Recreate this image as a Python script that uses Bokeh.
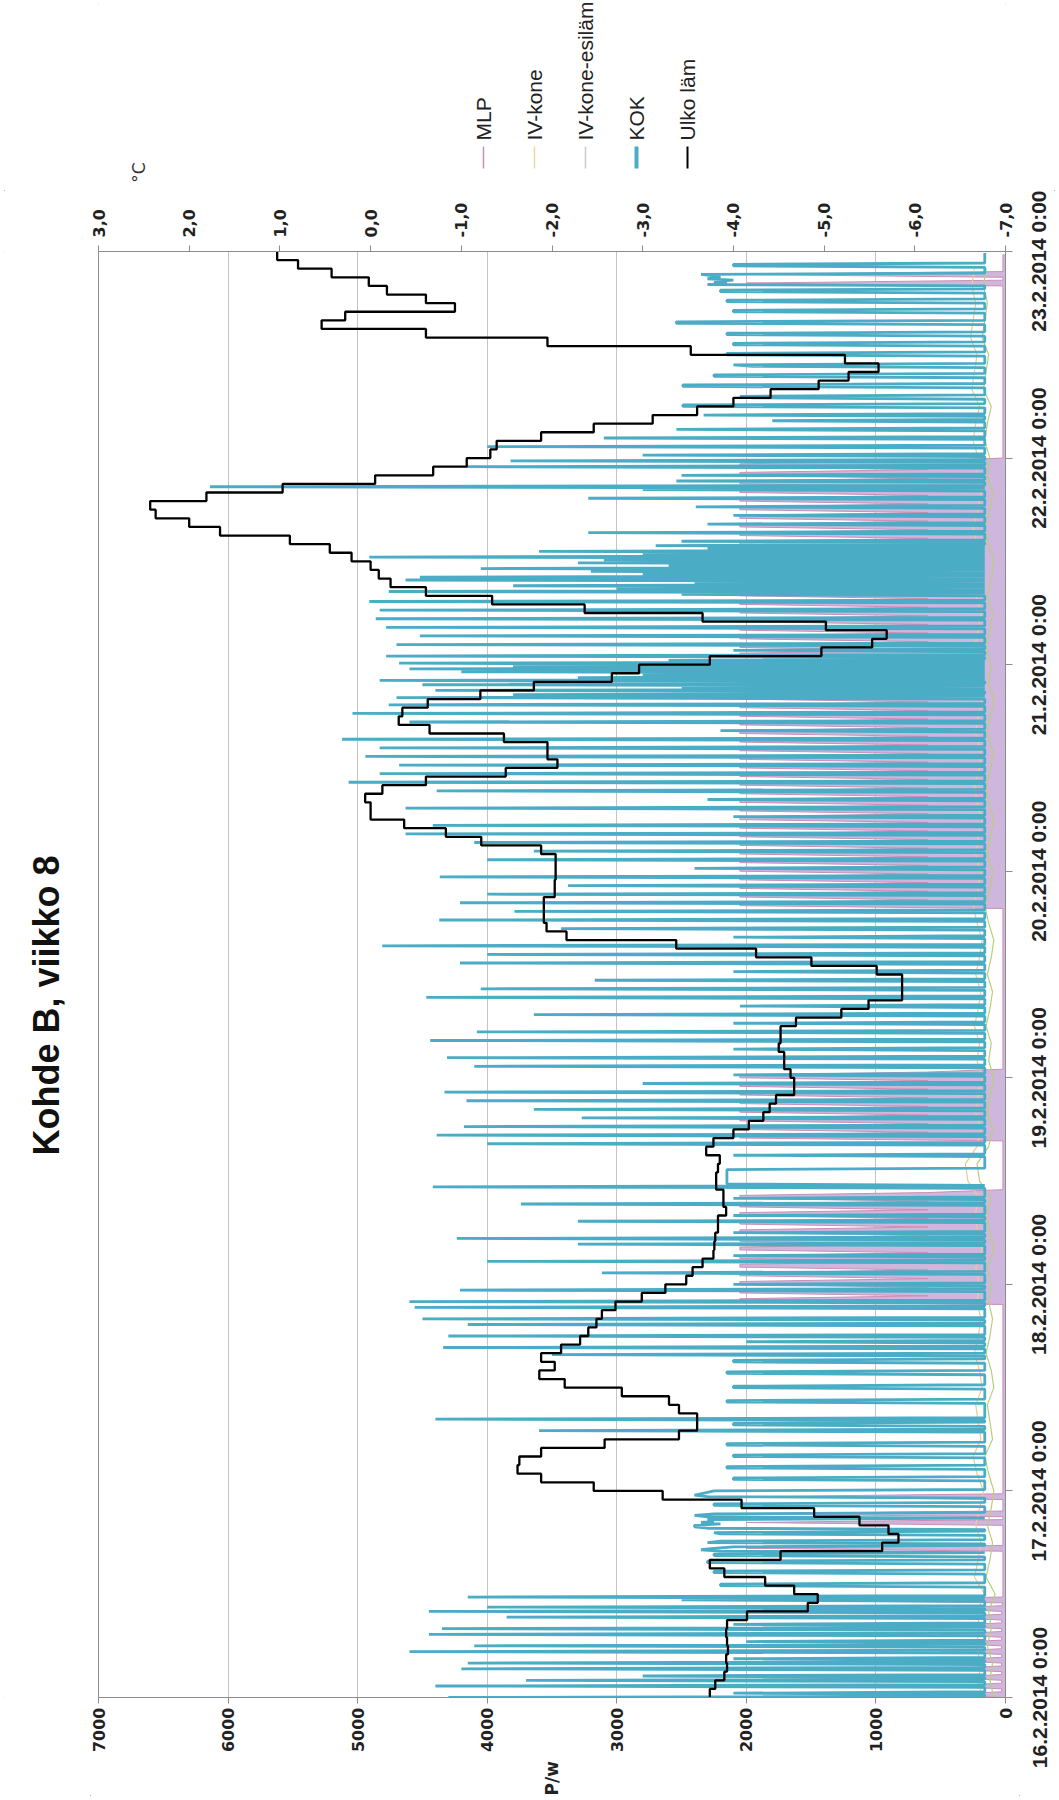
import math
from bokeh.plotting import figure
from bokeh.layouts import column, row
from bokeh.models import Range1d, LinearAxis, FixedTicker, CustomJSTickFormatter
from bokeh.core.properties import value
from bokeh.embed import file_html
from bokeh.resources import INLINE

# ---------------- data ----------------
TITLE = "Kohde B, viikko 8"
SERIES = ["MLP", "IV-kone", "IV-kone-esiläm", "KOK", "Ulko läm"]
DAY_LABELS = ["16.2.2014 0:00", "17.2.2014 0:00", "18.2.2014 0:00", "19.2.2014 0:00",
              "20.2.2014 0:00", "21.2.2014 0:00", "22.2.2014 0:00", "23.2.2014 0:00"]
POWER_TICKS = [0, 1000, 2000, 3000, 4000, 5000, 6000, 7000]
TEMP_TICKS = [-7, -6, -5, -4, -3, -2, -1, 0, 1, 2, 3]
POWER_LABEL = "P/w"
TEMP_LABEL = "°C"

# outdoor temperature (°C), hourly from 16.2.2014 0:00
ulko_lam = [
    -3.74, -3.80, -3.90, -3.93, -3.92, -3.94, -3.93, -3.92, -3.93, -4.15,
    -4.82, -4.93, -4.67, -4.35, -3.90, -3.74, -4.52, -5.64, -5.82, -5.71,
    -5.39, -4.89, -4.09, -3.22, -2.46, -1.88, -1.62, -1.64, -1.88, -2.58,
    -3.40, -3.60, -3.60, -3.40, -3.29, -2.77, -2.14, -1.86, -2.03, -1.88,
    -2.10, -2.31, -2.40, -2.49, -2.55, -2.70, -2.99, -3.25, -3.48, -3.55,
    -3.66, -3.78, -3.79, -3.80, -3.83, -3.83, -3.92, -3.89, -3.89, -3.81,
    -3.81, -3.83, -3.85, -3.70, -3.78, -4.00, -4.17, -4.33, -4.40, -4.47,
    -4.67, -4.67, -4.63, -4.56, -4.56, -4.50, -4.52, -4.52, -4.69, -5.19,
    -5.49, -5.86, -5.86, -5.86, -5.58, -4.86, -4.25, -3.37, -2.16, -1.94,
    -1.91, -1.91, -1.91, -2.03, -2.03, -2.04, -2.04, -2.04, -1.88, -1.22,
    -0.83, -0.37, 0.00, 0.00, 0.06, -0.13, -0.61, -1.49, -2.06, -1.95,
    -1.95, -1.47, -0.65, -0.31, -0.35, -0.63, -1.21, -1.80, -2.66, -2.96,
    -3.74, -4.97, -5.53, -5.69, -5.02, -3.66, -2.36, -1.34, -0.61, -0.22,
    -0.09, 0.00, 0.21, 0.45, 0.89, 1.66, 2.00, 2.37, 2.43, 1.81,
    0.97, -0.05, -0.69, -1.06, -1.32, -1.39, -1.88, -2.46, -3.11, -3.60,
    -4.00, -4.41, -4.94, -5.27, -5.60, -5.23, -3.53, -1.95, -0.61, 0.54,
    0.28, -0.93, -0.61, -0.18, 0.02, 0.43, 0.80, 1.03,
]

# KOK power (W), 10 min samples (one row = 2 hours)
kok = [
    4300, 160, 160, 2100, 160, 160, 160, 160, 4400, 160, 160, 160,
    3700, 160, 160, 2800, 160, 160, 160, 160, 4200, 160, 160, 160,
    4150, 160, 160, 2100, 160, 160, 160, 160, 4600, 160, 160, 160,
    4100, 160, 160, 2000, 160, 160, 160, 160, 4450, 160, 160, 160,
    4350, 160, 160, 2100, 160, 160, 160, 160, 3850, 160, 160, 160,
    4450, 160, 160, 4000, 160, 160, 160, 160, 2500, 160, 4150, 160,
    160, 160, 160, 160, 160, 160, 2200, 2200, 160, 160, 160, 160,
    160, 160, 160, 2250, 2250, 160, 160, 160, 160, 160, 2300, 2300,
    160, 160, 160, 2250, 2250, 160, 2200, 2350, 2250, 2100, 160, 160,
    2300, 2200, 160, 160, 160, 160, 2200, 2250, 160, 160, 2300, 2400,
    2400, 2200, 2350, 2250, 2300, 160, 2300, 2400, 2250, 160, 160, 160,
    160, 160, 2250, 2250, 160, 160, 160, 160, 2300, 2400, 2350, 2300,
    2250, 160, 160, 160, 160, 160, 160, 160, 2100, 2100, 160, 160,
    160, 160, 160, 160, 2150, 2150, 160, 160, 160, 160, 160, 160,
    2100, 2100, 160, 160, 160, 160, 160, 160, 2150, 2150, 160, 160,
    160, 160, 160, 160, 160, 160, 3600, 160, 160, 160, 2100, 2100,
    160, 160, 4400, 160, 160, 160, 160, 160, 160, 160, 160, 160,
    160, 160, 2150, 2150, 160, 160, 160, 160, 160, 160, 160, 160,
    2100, 2100, 160, 160, 160, 160, 160, 160, 160, 160, 2150, 2150,
    160, 160, 160, 160, 160, 160, 2100, 2100, 160, 160, 160, 3500,
    160, 160, 160, 160, 4340, 160, 160, 160, 2000, 160, 160, 160,
    4300, 160, 160, 160, 160, 160, 160, 160, 4150, 160, 160, 160,
    4500, 160, 160, 160, 160, 160, 160, 160, 4560, 160, 160, 160,
    4600, 160, 160, 160, 160, 160, 160, 160, 4210, 160, 160, 160,
    2100, 160, 160, 160, 160, 160, 160, 160, 3115, 160, 160, 160,
    160, 160, 160, 160, 4000, 160, 160, 160, 2100, 160, 160, 160,
    160, 160, 160, 160, 3300, 160, 160, 160, 4235, 160, 160, 160,
    2100, 160, 160, 160, 160, 160, 160, 160, 3300, 160, 160, 160,
    2100, 160, 160, 160, 160, 160, 160, 160, 3740, 160, 160, 160,
    2100, 160, 160, 160, 160, 160, 160, 160, 4420, 160, 2150, 2150,
    2150, 2150, 2150, 2150, 2150, 2150, 2150, 2150, 2150, 160, 160, 160,
    160, 160, 160, 160, 160, 160, 2100, 160, 160, 160, 160, 160,
    160, 160, 4000, 160, 160, 160, 160, 160, 4390, 160, 160, 160,
    160, 160, 4180, 160, 160, 160, 160, 160, 3270, 160, 160, 160,
    160, 160, 3640, 160, 160, 160, 160, 160, 4160, 160, 160, 160,
    160, 160, 4330, 160, 160, 160, 160, 160, 2800, 160, 160, 160,
    160, 160, 2100, 160, 160, 160, 160, 160, 4100, 160, 160, 160,
    160, 160, 4310, 160, 160, 160, 160, 160, 2100, 160, 160, 160,
    160, 160, 4440, 160, 160, 160, 160, 160, 4080, 160, 160, 160,
    160, 160, 2100, 160, 160, 160, 160, 160, 3640, 160, 160, 160,
    160, 160, 2050, 160, 160, 160, 160, 160, 4470, 160, 160, 160,
    160, 160, 4050, 160, 160, 160, 160, 160, 3170, 160, 160, 160,
    160, 160, 2100, 160, 160, 160, 160, 160, 4210, 160, 160, 160,
    160, 160, 4000, 160, 160, 160, 160, 160, 4810, 160, 160, 160,
    160, 160, 2100, 160, 160, 160, 160, 160, 3430, 160, 160, 160,
    160, 160, 4370, 160, 160, 160, 160, 160, 3790, 160, 160, 160,
    160, 160, 4210, 160, 160, 160, 160, 160, 4000, 160, 160, 160,
    160, 160, 3376, 160, 160, 160, 160, 160, 4366, 160, 160, 160,
    160, 160, 2400, 160, 160, 160, 160, 160, 4000, 160, 160, 160,
    160, 160, 3640, 160, 160, 160, 160, 160, 4100, 160, 160, 160,
    160, 160, 4630, 160, 160, 160, 160, 160, 4420, 160, 160, 160,
    160, 160, 2100, 160, 160, 160, 160, 160, 4630, 160, 160, 160,
    160, 160, 2300, 160, 160, 160, 160, 160, 4390, 160, 160, 160,
    160, 160, 5070, 160, 160, 160, 160, 160, 4830, 160, 160, 160,
    160, 160, 4680, 160, 160, 160, 160, 160, 4940, 160, 160, 160,
    160, 160, 4830, 160, 160, 160, 160, 160, 5120, 160, 160, 160,
    160, 160, 2200, 160, 160, 160, 160, 160, 4600, 160, 160, 160,
    160, 160, 5040, 160, 160, 160, 160, 160, 4760, 160, 160, 160,
    160, 4700, 160, 3800, 160, 160, 4400, 160, 2500, 160, 4500, 160,
    160, 4830, 160, 3300, 160, 2800, 160, 4200, 160, 4600, 160, 3800,
    160, 4680, 160, 2600, 160, 160, 4780, 160, 160, 160, 2100, 160,
    160, 160, 4700, 160, 160, 160, 160, 160, 4520, 160, 160, 160,
    160, 160, 4780, 160, 160, 160, 160, 160, 4860, 160, 160, 160,
    160, 160, 4830, 160, 160, 160, 160, 160, 4910, 160, 160, 160,
    160, 2500, 160, 4760, 160, 3000, 160, 3800, 160, 2400, 160, 4630,
    160, 4520, 160, 2800, 160, 3200, 160, 4050, 160, 2600, 160, 3300,
    160, 3100, 160, 4910, 160, 2800, 160, 3600, 160, 2300, 160, 2700,
    160, 160, 2500, 160, 160, 160, 160, 160, 3220, 160, 160, 160,
    160, 160, 2300, 160, 160, 160, 160, 160, 2100, 160, 160, 160,
    160, 160, 2390, 160, 160, 160, 160, 160, 3220, 160, 160, 160,
    160, 160, 2800, 160, 6140, 160, 160, 160, 2540, 160, 160, 160,
    2500, 160, 160, 160, 160, 160, 4160, 160, 160, 160, 3820, 160,
    160, 160, 2800, 160, 160, 160, 160, 160, 4000, 160, 160, 160,
    160, 160, 3100, 160, 160, 160, 160, 160, 2540, 160, 160, 160,
    160, 160, 1800, 160, 160, 160, 2330, 160, 160, 160, 160, 160,
    2490, 2490, 160, 160, 160, 160, 1950, 2050, 160, 160, 160, 160,
    160, 160, 2490, 2490, 160, 160, 160, 160, 160, 2250, 2250, 160,
    160, 160, 160, 160, 1950, 2100, 160, 160, 160, 160, 160, 160,
    2150, 2150, 160, 160, 160, 160, 160, 2100, 2100, 160, 160, 160,
    160, 160, 2150, 2150, 160, 160, 160, 160, 160, 160, 2540, 2540,
    160, 160, 160, 160, 160, 160, 2100, 2100, 160, 160, 160, 160,
    160, 2150, 2150, 160, 160, 160, 160, 160, 2200, 2200, 160, 160,
    160, 2300, 2150, 2250, 2100, 2300, 2200, 2250, 2350, 160, 160, 160,
    160, 160, 2100, 2100, 160, 160, 160, 160, 160, 160, 160, 160,
]

# MLP power (W), 20 min samples (one row = 4 hours)
mlp = [
    30, 500, 30, 30, 500, 30, 30, 500, 30, 30, 500, 30,
    30, 500, 30, 30, 500, 30, 30, 500, 30, 30, 500, 30,
    30, 500, 30, 30, 500, 30, 30, 500, 30, 20, 2000, 20,
    20, 20, 20, 20, 20, 20, 20, 20, 20, 20, 20, 20,
    20, 20, 20, 20, 2000, 20, 20, 20, 20, 20, 20, 20,
    20, 2000, 20, 20, 2000, 20, 20, 20, 20, 20, 2000, 20,
    20, 20, 20, 20, 20, 20, 20, 20, 20, 20, 20, 20,
    20, 20, 20, 20, 20, 20, 20, 20, 20, 20, 20, 20,
    20, 20, 20, 20, 20, 20, 20, 20, 20, 20, 20, 20,
    20, 20, 20, 20, 20, 20, 20, 20, 20, 20, 20, 20,
    20, 20, 20, 20, 20, 20, 20, 20, 20, 20, 20, 20,
    20, 20, 20, 20, 20, 20, 2050, 2050, 600, 2050, 2050, 600,
    2050, 2050, 600, 2050, 2050, 600, 2050, 2050, 600, 2050, 2050, 600,
    2050, 2050, 600, 2050, 2050, 600, 2050, 2050, 600, 2050, 2050, 600,
    2050, 2050, 600, 2050, 2050, 600, 2050, 2050, 600, 20, 20, 20,
    20, 20, 20, 20, 20, 20, 20, 20, 20, 20, 20, 20,
    20, 20, 20, 2050, 2050, 600, 2050, 2050, 600, 2050, 2050, 600,
    2050, 2050, 600, 2050, 2050, 600, 2050, 2050, 600, 2050, 2050, 600,
    2050, 2050, 600, 20, 20, 20, 20, 20, 20, 20, 20, 20,
    20, 20, 20, 20, 20, 20, 20, 20, 20, 20, 20, 20,
    20, 20, 20, 20, 20, 20, 20, 20, 20, 20, 20, 20,
    20, 20, 20, 20, 20, 20, 20, 20, 20, 20, 20, 20,
    20, 20, 20, 20, 20, 20, 20, 20, 20, 20, 20, 20,
    2050, 2050, 600, 2050, 2050, 600, 2050, 2050, 600, 2050, 2050, 600,
    2050, 2050, 600, 2050, 2050, 600, 2050, 2050, 600, 2050, 2050, 600,
    2050, 2050, 600, 2050, 2050, 600, 2050, 2050, 600, 2050, 2050, 600,
    2050, 2050, 600, 2050, 2050, 600, 2050, 2050, 600, 2050, 2050, 600,
    2050, 2050, 600, 2050, 2050, 600, 2050, 2050, 600, 2050, 2050, 600,
    2050, 2050, 600, 2050, 2050, 600, 2050, 2050, 600, 2050, 2050, 600,
    2050, 2050, 600, 2050, 2050, 600, 2050, 2050, 600, 2050, 2050, 600,
    2050, 2050, 600, 2050, 2050, 600, 2050, 2050, 600, 2050, 2050, 600,
    2050, 2050, 600, 2050, 2050, 600, 2050, 2050, 600, 2050, 2050, 600,
    2050, 2050, 600, 2050, 2050, 600, 2050, 2050, 600, 2050, 2050, 600,
    2050, 2050, 600, 2050, 2050, 600, 2050, 2050, 600, 2050, 2050, 600,
    2050, 2050, 600, 2050, 2050, 600, 2050, 2050, 600, 2050, 2050, 600,
    2050, 2050, 600, 2050, 2050, 600, 2050, 2050, 600, 2050, 2050, 600,
    20, 20, 20, 20, 20, 20, 20, 20, 20, 20, 20, 20,
    20, 20, 20, 20, 20, 20, 20, 20, 20, 20, 20, 20,
    20, 20, 20, 20, 20, 20, 20, 20, 20, 20, 20, 20,
    20, 20, 20, 20, 20, 20, 20, 20, 20, 20, 20, 20,
    20, 20, 20, 20, 20, 20, 20, 20, 20, 20, 20, 20,
    20, 2000, 20, 20, 2000, 20, 20, 20, 20, 20, 20, 20,
]

# ventilation units (W), 2 hour samples
iv_kone = [
    180, 210, 190, 230, 200, 220, 160, 240, 210, 190, 230, 200,
    170, 220, 250, 190, 210, 230, 180, 200, 240, 210, 190, 220,
    200, 230, 180, 210, 240, 200, 290, 310, 220, 190, 230, 210,
    180, 220, 200, 240, 210, 190, 230, 200, 180, 220, 250, 210,
    190, 230, 210, 180, 220, 240, 200, 190, 230, 210, 180, 220,
    200, 240, 210, 190, 230, 200, 180, 220, 250, 210, 190, 230,
    210, 250, 230, 200, 260, 240, 220, 270, 250, 230, 260, 240,
]
iv_kone_esilam = [
    90, 120, 100, 140, 110, 130, 80, 150, 120, 100, 140, 110,
    90, 130, 160, 100, 120, 140, 90, 110, 150, 120, 100, 130,
    110, 140, 90, 120, 150, 110, 200, 220, 130, 100, 140, 120,
    90, 130, 110, 150, 120, 100, 140, 110, 90, 130, 160, 120,
    100, 140, 120, 90, 130, 150, 110, 100, 140, 120, 90, 130,
    110, 150, 120, 100, 140, 110, 90, 130, 160, 120, 100, 140,
    120, 160, 140, 110, 170, 150, 130, 180, 160, 140, 170, 150,
]

# ---------------- geometry / style ----------------
W, H = 1059, 1800
TOP_H = 190                     # strip above the chart: legend + unit
LEFT_W = 90                     # strip left of the chart: title
RIGHT_W = 40                    # strip right of the chart: date labels
FRAME_L, FRAME_R, FRAME_T, FRAME_B = 98, 1005, 251, 1697
HOURS = 24 * (len(DAY_LABELS) - 1)
MAIN_W = W - LEFT_W - RIGHT_W
MAIN_H = H - TOP_H
BORDER_T = FRAME_T - TOP_H
BORDER_B = H - FRAME_B

C_KOK = "#4bacc6"
C_MLP = "#c98fb5"
C_MLP_FILL = "#cfb6dd"
C_IV = "#f2c98a"
C_IVE = "#b8cf7a"
C_TEMP = "#000000"
C_AXIS = "#8c8c8c"
C_GRID = "#c4c4c4"
SANS = "Liberation Sans"
WIDE = "DejaVu Sans"


def blank(fig):
    fig.grid.visible = False
    fig.outline_line_color = None
    fig.background_fill_color = "white"
    fig.border_fill_color = "white"


# ---- top strip: legend + unit of the temperature axis (pixel coordinates) ----
top = figure(width=W, height=TOP_H, output_backend="svg", toolbar_location=None,
             x_range=Range1d(FRAME_L, FRAME_R), y_range=Range1d(0, TOP_H),
             x_axis_location=None, y_axis_location=None,
             min_border_left=FRAME_L, min_border_right=W - FRAME_R,
             min_border_top=0, min_border_bottom=0)
blank(top)
leg_x = [483 + 51 * i for i in range(len(SERIES))]
leg_colors = [C_MLP, "#ead7a6", "#cacaca", C_KOK, C_TEMP]
leg_widths = [1.5, 1.5, 1.5, 4, 2]
top.text(x=leg_x, y=[TOP_H - 140] * len(SERIES), text=SERIES, angle=math.pi / 2,
         text_align="left", text_baseline="middle", text_font=value(SANS),
         text_font_size="21px", text_color="#222222")
top.segment(x0=leg_x, y0=[TOP_H - 146] * len(SERIES), x1=leg_x, y1=[TOP_H - 168] * len(SERIES),
            line_color=leg_colors, line_width=leg_widths)
top.text(x=[138], y=[TOP_H - 172], text=[TEMP_LABEL], angle=math.pi / 2,
         text_align="center", text_baseline="middle", text_font=value(WIDE),
         text_font_size="17px", text_color="#333333")

# ---- main chart ----
p = figure(width=MAIN_W, height=MAIN_H, output_backend="svg", toolbar_location=None,
           x_range=Range1d(POWER_TICKS[-1], POWER_TICKS[0]), y_range=Range1d(0, HOURS),
           x_axis_location="below", y_axis_location="right",
           min_border_left=FRAME_L - LEFT_W, min_border_right=LEFT_W + MAIN_W - FRAME_R,
           min_border_top=BORDER_T, min_border_bottom=BORDER_B)
p.extra_x_ranges = {"temp": Range1d(TEMP_TICKS[-1], TEMP_TICKS[0])}
p.background_fill_color = "white"
p.border_fill_color = "white"
p.outline_line_color = C_AXIS
p.xgrid.ticker = FixedTicker(ticks=POWER_TICKS)
p.xgrid.grid_line_color = C_GRID
p.ygrid.visible = False


def style_axis(a, font, size, tick_out, standoff):
    a.major_label_orientation = math.pi / 2
    a.major_label_text_font = font
    a.major_label_text_font_style = "bold"
    a.major_label_text_font_size = size
    a.major_label_text_color = "#222222"
    a.axis_line_color = C_AXIS
    a.major_tick_line_color = C_AXIS
    a.major_tick_out = tick_out
    a.major_tick_in = 0
    a.minor_tick_line_color = None
    a.major_label_standoff = standoff


ax = p.xaxis[0]
ax.ticker = FixedTicker(ticks=POWER_TICKS)
style_axis(ax, WIDE, "16px", 6, 4)
ax.axis_label = POWER_LABEL
ax.axis_label_text_font = WIDE
ax.axis_label_text_font_style = "bold"
ax.axis_label_text_font_size = "17px"
ax.axis_label_text_color = "#222222"
ax.axis_label_standoff = 6
if "axis_label_orientation" in ax.properties():
    ax.axis_label_orientation = math.pi / 2

tax = LinearAxis(x_range_name="temp", ticker=FixedTicker(ticks=TEMP_TICKS),
                 formatter=CustomJSTickFormatter(code="return tick.toFixed(1).replace('.', ',');"))
style_axis(tax, WIDE, "16px", 6, 8)
p.add_layout(tax, "above")

DAY_TICKS = [24 * i for i in range(len(DAY_LABELS))]
yax = p.yaxis[0]
yax.ticker = FixedTicker(ticks=DAY_TICKS)
yax.formatter = CustomJSTickFormatter(code="return '';")
style_axis(yax, SANS, "1px", 7, 0)

# ---- series ----
t10 = [i / 6 for i in range(len(kok))]
t20 = [i / 3 for i in range(len(mlp))]
t2h = [2 * i for i in range(len(iv_kone))]

p.harea(x1=0, x2=mlp, y=t20, fill_color=C_MLP_FILL, fill_alpha=1.0)
p.line(x=mlp, y=t20, line_color=C_MLP, line_width=1)
p.line(x=iv_kone, y=t2h, line_color=C_IV, line_width=1.2)
p.line(x=iv_kone_esilam, y=t2h, line_color=C_IVE, line_width=1.2)
p.line(x=kok, y=t10, line_color=C_KOK, line_width=2.8)

tx, ty = [], []
for i, tv in enumerate(ulko_lam):
    tx += [tv, tv]
    ty += [i, i + 1]
p.line(x=tx, y=ty, x_range_name="temp", line_color=C_TEMP, line_width=2.3)

# ---- left strip: title (pixel x, shared time y) ----
left = figure(width=LEFT_W, height=MAIN_H, output_backend="svg", toolbar_location=None,
              x_range=Range1d(0, LEFT_W), y_range=p.y_range,
              x_axis_location=None, y_axis_location=None,
              min_border_left=0, min_border_right=0,
              min_border_top=BORDER_T, min_border_bottom=BORDER_B)
blank(left)
title_hour = HOURS * (FRAME_B - 1005) / (FRAME_B - FRAME_T)
left.text(x=[46], y=[title_hour], text=[TITLE], angle=math.pi / 2,
          text_align="center", text_baseline="middle", text_font=value(SANS),
          text_font_style="bold", text_font_size="36px", text_color="#111111")

# ---- right strip: date labels on its own axis (shared time y) ----
right = figure(width=RIGHT_W, height=MAIN_H, output_backend="svg", toolbar_location=None,
               x_range=Range1d(0, 1), y_range=p.y_range,
               x_axis_location=None, y_axis_location="left",
               min_border_left=34, min_border_right=0,
               min_border_top=BORDER_T, min_border_bottom=BORDER_B)
blank(right)
day_ax = right.yaxis[0]
day_ax.ticker = FixedTicker(ticks=DAY_TICKS)
day_ax.formatter = CustomJSTickFormatter(args=dict(labels=DAY_LABELS),
                                         code="return labels[Math.round(tick / 24)];")
day_ax.major_label_orientation = "vertical"
day_ax.major_label_text_font = SANS
day_ax.major_label_text_font_style = "bold"
day_ax.major_label_text_font_size = "21px"
day_ax.major_label_text_color = "#222222"
day_ax.axis_line_color = None
day_ax.major_tick_line_color = None
day_ax.minor_tick_line_color = None
day_ax.major_tick_out = 0
day_ax.major_tick_in = 0
day_ax.major_label_standoff = 3

layout = column(top, row(left, p, right),
                styles={"outline": "1px solid #9a9a9a", "outline-offset": "-5px"})

with open("out.html", "w", encoding="utf-8") as f:
    f.write(file_html(layout, INLINE))
